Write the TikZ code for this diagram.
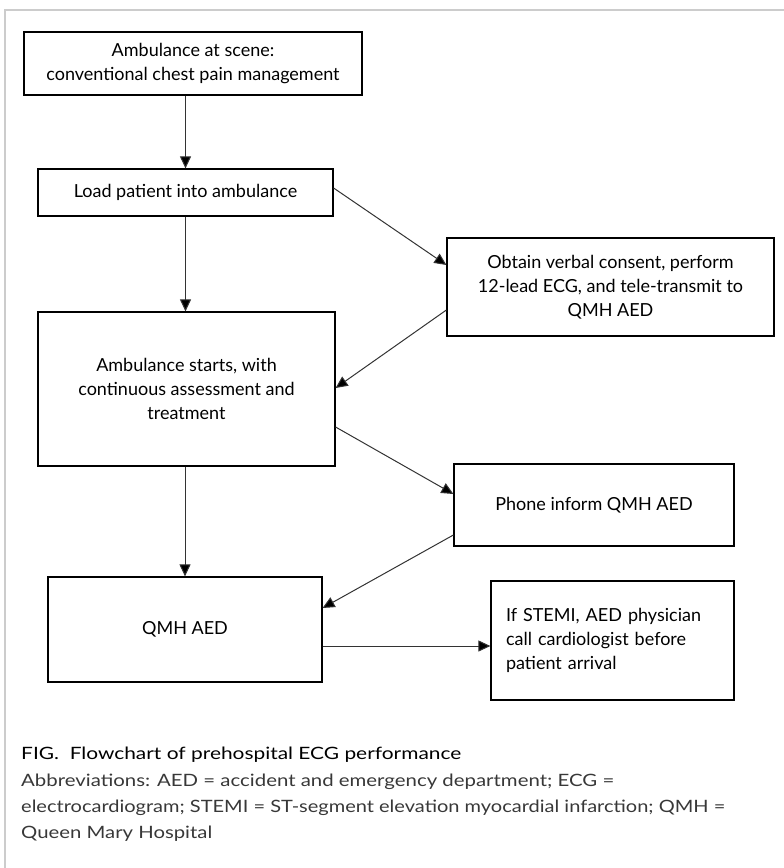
\documentclass[tikz,border=0pt]{standalone}
\usepackage{graphicx}
\usepackage{fontspec}
\setmainfont{Lato}
\usetikzlibrary{arrows.meta,calc}
\definecolor{framegray}{HTML}{CCCCCC}
\definecolor{linegray}{HTML}{333333}
\definecolor{captext}{HTML}{383838}
\begin{document}
\begin{tikzpicture}[x=1pt,y=-1pt,
  box/.style={draw=black,line width=1.2pt,inner sep=0pt,align=center,
    font=\fontsize{18}{24}\selectfont,text=black},
  conn/.style={draw=linegray,line width=1pt,-{Triangle[length=12pt,width=11pt,fill=black]}},
  capline/.style={anchor=base west,inner sep=0pt},
  figfont/.style={font=\fontsize{17}{20}\selectfont,text=black},
  abbfont/.style={font=\fontsize{17}{20}\selectfont,text=captext}]
\useasboundingbox (0,0) rectangle (784,868);
\draw[framegray,line width=1.5pt] (784,10) -- (5,10) -- (5,868);

\node[box,minimum width=338pt,minimum height=63pt] (b1) at (193,63.5)
  {Ambulance at scene:\\conventional chest pain management};
\node[box,minimum width=295pt,minimum height=47pt] (b2) at (185.5,192.5)
  {Load patient into ambulance};
\node[box,minimum width=327pt,minimum height=98pt] (b3) at (610.5,287)
  {Obtain verbal consent, perform\\12-lead ECG, and tele-transmit to\\QMH AED};
\node[box,minimum width=297pt,minimum height=154pt] (b4) at (186.5,389)
  {Ambulance starts, with\\continuous assessment and\\treatment};
\node[box,minimum width=274pt,minimum height=105pt] (b5) at (185,629.5)
  {QMH AED};
\node[box,minimum width=280pt,minimum height=82pt] (b6) at (594,505)
  {Phone inform QMH AED};
\node[box,minimum width=243pt,minimum height=119pt,align=left,text width=213pt] (b7) at (612.5,640.5)
  {If STEMI, AED physician\\call cardiologist before\\patient arrival};

\draw[conn] (b1.south -| b2.north) -- (b2.north);
\draw[conn] (b2.south) -- (b2.south |- b4.north);
\draw[conn] ([yshift=4.5pt]b2.east) -- ([yshift=22pt]b3.west);
\draw[conn] ([yshift=-23pt]b3.west) -- ([yshift=1pt]b4.east);
\draw[conn] ([yshift=-38pt]b4.east) -- ([yshift=11pt]b6.west);
\draw[conn] ([yshift=-30pt]b6.west) -- ([yshift=21.5pt]b5.east);
\draw[conn] (b4.south -| b5.north) -- (b5.north);
\draw[conn] ([yshift=-16.5pt]b5.east) -- ([yshift=-16.5pt]b5.east -| b7.west);

\node[capline,figfont] (cap) at (21,759)
  {\resizebox{440pt}{\height}{FIG.\ \ Flowchart of prehospital ECG performance}};
\node[capline,abbfont] (abb1) at (21,786)
  {\resizebox{593pt}{\height}{Abbreviations: AED = accident and emergency department; ECG =}};
\node[capline,abbfont] (abb2) at (21,812)
  {\resizebox{704pt}{\height}{electrocardiogram; STEMI = ST-segment elevation myocardial infarction; QMH =}};
\node[capline,abbfont] (abb3) at (21,838)
  {\resizebox{191pt}{\height}{Queen Mary Hospital}};
\end{tikzpicture}
\end{document}
